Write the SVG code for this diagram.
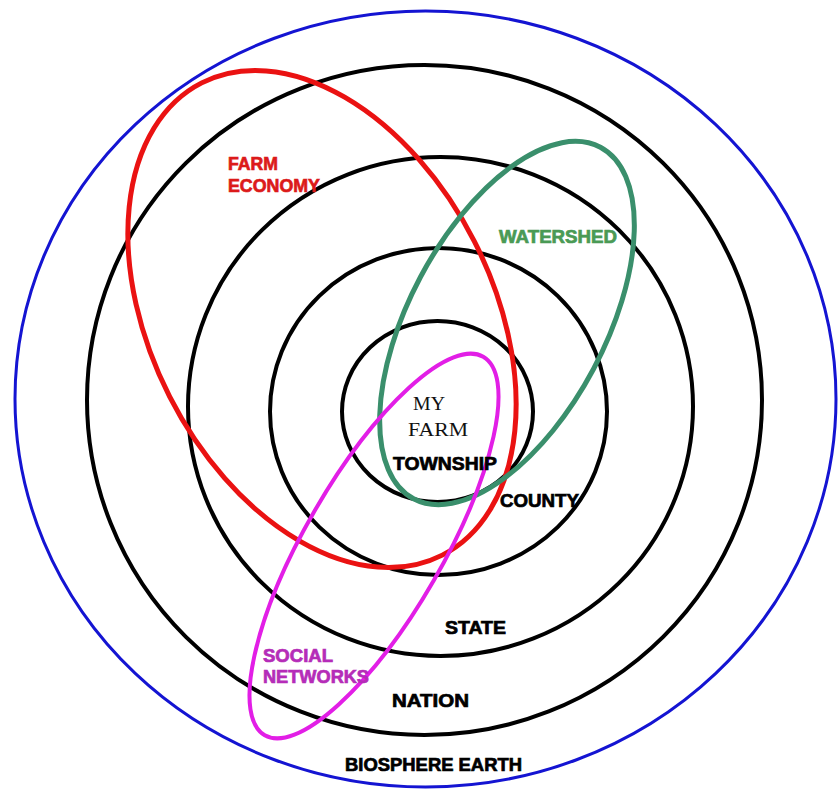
<svg xmlns="http://www.w3.org/2000/svg" width="838" height="793" viewBox="0 0 838 793">
  <style>
    .ring { fill: none; stroke: #000; stroke-width: 4; }
    .earth { fill: none; stroke: #1414d2; stroke-width: 3; }
    .econ { fill: none; stroke: #ea1212; stroke-width: 5; }
    .water { fill: none; stroke: #3a8f6c; stroke-width: 5; }
    .social { fill: none; stroke: #e21ee6; stroke-width: 4; }
    .lbl { font-family: "Liberation Sans", Arial, sans-serif; font-weight: bold; font-size: 18px; stroke-width: 0.7px; }
    .blk { fill: #000; stroke: #000; }
    .red { fill: #dc1a1a; stroke: #dc1a1a; }
    .grn { fill: #4a9a55; stroke: #4a9a55; }
    .mag { fill: #b52cb8; stroke: #b52cb8; }
    .farm { font-family: "Liberation Serif", "Times New Roman", serif; font-size: 19.5px; fill: #111; }
  </style>
  <rect width="838" height="793" fill="#fff"/>

  <!-- nested scales -->
  <g id="biosphere-earth">
    <ellipse class="earth" cx="425.5" cy="399" rx="410.5" ry="388"/>
    <text class="lbl blk" x="345" y="771" textLength="177" lengthAdjust="spacingAndGlyphs">BIOSPHERE EARTH</text>
  </g>
  <g id="nation">
    <ellipse class="ring" cx="424.5" cy="400" rx="337.5" ry="335"/>
    <text class="lbl blk" x="392" y="707" textLength="77" lengthAdjust="spacingAndGlyphs">NATION</text>
  </g>
  <g id="state">
    <ellipse class="ring" cx="440.5" cy="406.5" rx="252.5" ry="249.5"/>
    <text class="lbl blk" x="445" y="634" textLength="61" lengthAdjust="spacingAndGlyphs">STATE</text>
  </g>
  <g id="county">
    <ellipse class="ring" cx="438.5" cy="411.5" rx="168.5" ry="163.5"/>
  </g>
  <g id="township">
    <ellipse class="ring" cx="437.5" cy="411.5" rx="95.5" ry="90.5"/>
  </g>

  <!-- overlapping systems -->
  <g id="farm-economy">
    <ellipse class="econ" cx="0" cy="0" rx="265" ry="171" transform="translate(322 319) rotate(63)"/>
  </g>
  <g id="watershed">
    <ellipse class="water" cx="0" cy="0" rx="199" ry="98" transform="translate(507 323) rotate(-62)"/>
  </g>
  <g id="social-networks">
    <ellipse class="social" cx="0" cy="0" rx="218.5" ry="69" transform="translate(374 546) rotate(-60)"/>
  </g>

  <!-- labels -->
  <g id="labels">
    <text class="lbl red" x="228" y="170" textLength="50" lengthAdjust="spacingAndGlyphs">FARM</text>
    <text class="lbl red" x="228" y="192" textLength="92" lengthAdjust="spacingAndGlyphs">ECONOMY</text>
    <text class="lbl grn" x="499" y="243" textLength="118" lengthAdjust="spacingAndGlyphs">WATERSHED</text>
    <text class="farm" x="413" y="410" textLength="32" lengthAdjust="spacingAndGlyphs">MY</text>
    <text class="farm" x="408" y="436" textLength="60" lengthAdjust="spacingAndGlyphs">FARM</text>
    <text class="lbl blk" x="393" y="470" textLength="104" lengthAdjust="spacingAndGlyphs">TOWNSHIP</text>
    <text class="lbl blk" x="500" y="507" textLength="79" lengthAdjust="spacingAndGlyphs">COUNTY</text>
    <text class="lbl mag" x="263" y="662" textLength="70" lengthAdjust="spacingAndGlyphs">SOCIAL</text>
    <text class="lbl mag" x="263" y="683" textLength="106" lengthAdjust="spacingAndGlyphs">NETWORKS</text>
  </g>
</svg>
